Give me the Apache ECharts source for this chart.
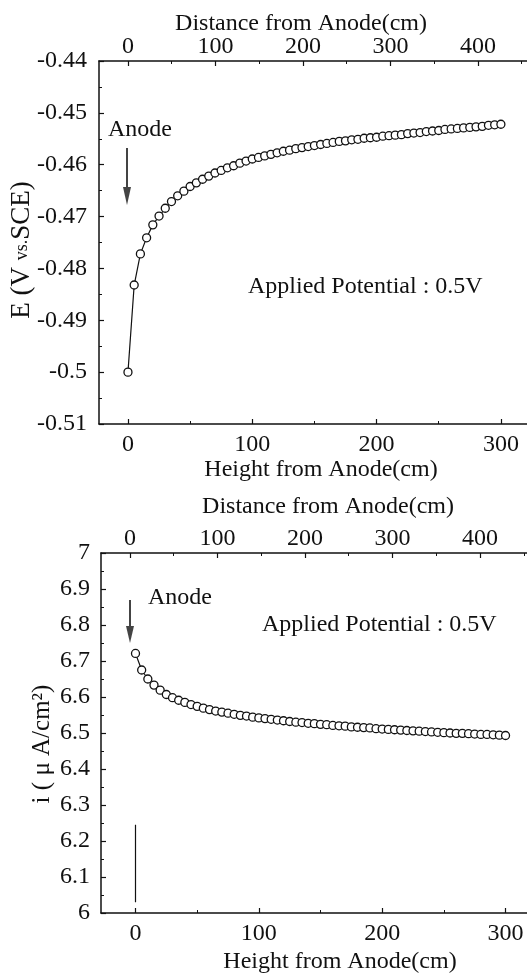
<!DOCTYPE html>
<html>
<head>
<meta charset="utf-8">
<script src="https://cdn.jsdelivr.net/npm/echarts@6/dist/echarts.min.js"></script>
<style>
html,body{margin:0;padding:0;background:#fff;}
#chart{width:527px;height:976px;}
</style>
</head>
<body>
<div id="chart"></div>
<script>
// ---- data ----
const heightCm = [0,5,10,15,20,25,30,35,40,45,50,55,60,65,70,75,80,85,90,95,100,105,110,115,120,125,130,135,140,145,150,155,160,165,170,175,180,185,190,195,200,205,210,215,220,225,230,235,240,245,250,255,260,265,270,275,280,285,290,295,300];
const potentialE = [-0.5000,-0.4832,-0.4772,-0.4741,-0.4716,-0.4699,-0.4684,-0.4671,-0.4660,-0.4651,-0.4642,-0.4635,-0.4628,-0.4622,-0.4616,-0.4611,-0.4606,-0.4602,-0.4597,-0.4593,-0.4589,-0.4586,-0.4583,-0.4580,-0.4577,-0.4574,-0.4572,-0.4569,-0.4567,-0.4565,-0.4563,-0.4561,-0.4559,-0.4557,-0.4555,-0.4554,-0.4552,-0.4551,-0.4549,-0.4548,-0.4547,-0.4545,-0.4544,-0.4543,-0.4542,-0.4540,-0.4539,-0.4538,-0.4536,-0.4535,-0.4534,-0.4532,-0.4531,-0.4530,-0.4529,-0.4528,-0.4527,-0.4526,-0.4524,-0.4523,-0.4522];
const currentI = [6.721,6.675,6.650,6.633,6.619,6.607,6.598,6.591,6.585,6.579,6.574,6.569,6.565,6.561,6.558,6.555,6.552,6.549,6.547,6.544,6.542,6.540,6.538,6.536,6.534,6.532,6.530,6.529,6.527,6.526,6.524,6.523,6.521,6.520,6.519,6.517,6.516,6.515,6.514,6.512,6.511,6.510,6.509,6.508,6.507,6.506,6.505,6.504,6.503,6.502,6.501,6.500,6.499,6.499,6.498,6.497,6.496,6.496,6.495,6.494,6.493];
const anodeLineH = [0,0];
const anodeLineI = [6.03,6.245];
const heightTicks = [0,100,200,300];
const heightMinorTicks = [50,150,250];
const distanceTicks = [0,100,200,300,400];
const distanceMinorTicks = [50,150,250,350,450];

const FONT = 'Liberation Serif';
const INK = '#111';

function pairs(xs, ys){ return xs.map((x,i)=>[x, ys[i]]); }

function xAxes(gridIndex, hMin, hMax, dMin, dMax){
  const line = {show:true, onZero:false, lineStyle:{color:INK, width:1.5}};
  const base = {type:'value', gridIndex, splitLine:{show:false}};
  return [
    Object.assign({}, base, {position:'bottom', min:hMin, max:hMax, axisLine:line,
      axisTick:{show:true, inside:true, length:5, customValues:heightTicks, lineStyle:{color:INK,width:1.2}},
      axisLabel:{show:true, customValues:heightTicks, margin:9, fontFamily:FONT, fontSize:24, color:INK}}),
    Object.assign({}, base, {position:'top', min:dMin, max:dMax, axisLine:line,
      axisTick:{show:true, inside:true, length:5, customValues:distanceTicks, lineStyle:{color:INK,width:1.2}},
      axisLabel:{show:true, customValues:distanceTicks, margin:2, fontFamily:FONT, fontSize:24, color:INK}}),
    Object.assign({}, base, {position:'bottom', min:hMin, max:hMax, axisLine:{show:false, onZero:false},
      axisTick:{show:true, inside:true, length:3, customValues:heightMinorTicks, lineStyle:{color:INK,width:1}},
      axisLabel:{show:false}}),
    Object.assign({}, base, {position:'top', min:dMin, max:dMax, axisLine:{show:false, onZero:false},
      axisTick:{show:true, inside:true, length:3, customValues:distanceMinorTicks, lineStyle:{color:INK,width:1}},
      axisLabel:{show:false}})
  ];
}

const symStyle = {color:'#fff', borderColor:INK, borderWidth:1.3};

const option = {
  animation:false,
  backgroundColor:'#fff',
  grid:[
    {left:99, top:61, right:0, height:363},
    {left:101, top:553, right:0, height:360}
  ],
  xAxis: [].concat(
    xAxes(0, -23.3, 321.0, -33.14, 456.0),
    xAxes(1, -27.97, 317.4, -33.1, 453.7)
  ),
  yAxis:[
    {type:'value', gridIndex:0, min:-0.51, max:-0.44, interval:0.01,
     axisLine:{show:true, onZero:false, lineStyle:{color:INK,width:1.5}},
     axisTick:{show:true, inside:true, length:5, lineStyle:{color:INK,width:1.2}},
     minorTick:{show:true, splitNumber:2, length:3, lineStyle:{color:INK,width:1}},
     splitLine:{show:false},
     axisLabel:{margin:12, fontFamily:FONT, fontSize:24, color:INK}},
    {type:'value', gridIndex:1, min:6, max:7, interval:0.1,
     axisLine:{show:true, onZero:false, lineStyle:{color:INK,width:1.5}},
     axisTick:{show:true, inside:true, length:5, lineStyle:{color:INK,width:1.2}},
     minorTick:{show:true, splitNumber:2, length:3, lineStyle:{color:INK,width:1}},
     splitLine:{show:false},
     axisLabel:{margin:11, fontFamily:FONT, fontSize:24, color:INK}}
  ],
  series:[
    {type:'line', xAxisIndex:0, yAxisIndex:0, data:pairs(heightCm, potentialE),
     symbol:'circle', symbolSize:8, showAllSymbol:true, itemStyle:symStyle,
     lineStyle:{color:INK, width:1.2}},
    {type:'line', xAxisIndex:4, yAxisIndex:1, data:pairs(heightCm, currentI),
     symbol:'circle', symbolSize:8, showAllSymbol:true, itemStyle:symStyle,
     lineStyle:{color:INK, width:1.2}},
    {type:'line', xAxisIndex:4, yAxisIndex:1, data:pairs(anodeLineH, anodeLineI),
     symbol:'none', lineStyle:{color:INK, width:1.2}}
  ],
  graphic:[
    {type:'text', x:301, y:24, style:{text:'Distance from Anode(cm)', font:'24px '+FONT, fill:INK, align:'center', verticalAlign:'middle'}},
    {type:'text', x:321, y:470, style:{text:'Height from Anode(cm)', font:'24px '+FONT, fill:INK, align:'center', verticalAlign:'middle'}},
    {type:'text', x:328, y:507, style:{text:'Distance from Anode(cm)', font:'24px '+FONT, fill:INK, align:'center', verticalAlign:'middle'}},
    {type:'text', x:340, y:962, style:{text:'Height from Anode(cm)', font:'24px '+FONT, fill:INK, align:'center', verticalAlign:'middle'}},
    {type:'text', x:108, y:130, style:{text:'Anode', font:'24px '+FONT, fill:INK, align:'left', verticalAlign:'middle'}},
    {type:'text', x:148, y:598, style:{text:'Anode', font:'24px '+FONT, fill:INK, align:'left', verticalAlign:'middle'}},
    {type:'text', x:248, y:287, style:{text:'Applied Potential : 0.5V', font:'24px '+FONT, fill:INK, align:'left', verticalAlign:'middle'}},
    {type:'text', x:262, y:625, style:{text:'Applied Potential : 0.5V', font:'24px '+FONT, fill:INK, align:'left', verticalAlign:'middle'}},
    {type:'text', x:22, y:250, rotation:Math.PI/2, style:{
      text:'{a|E (V }{b|vs.}{a|SCE)}', align:'center', verticalAlign:'middle',
      rich:{a:{fontFamily:FONT, fontSize:27, fill:INK, color:INK}, b:{fontFamily:FONT, fontSize:18, fill:INK, color:INK}}}},
    {type:'text', x:42, y:744, rotation:Math.PI/2, style:{
      text:'i ( μ A/cm²)', font:'25px '+FONT, fill:INK, align:'center', verticalAlign:'middle'}},
    // arrows
    {type:'line', shape:{x1:127, y1:148, x2:127, y2:190}, style:{stroke:'#444', lineWidth:2}},
    {type:'polygon', shape:{points:[[123,187],[131,187],[127,205]]}, style:{fill:'#444'}},
    {type:'line', shape:{x1:130, y1:600, x2:130, y2:628}, style:{stroke:'#444', lineWidth:2}},
    {type:'polygon', shape:{points:[[126,626],[134,626],[130,643]]}, style:{fill:'#444'}}
  ]
};

const chart = echarts.init(document.getElementById('chart'), null, {renderer:'canvas'});
chart.setOption(option);
</script>
</body>
</html>
